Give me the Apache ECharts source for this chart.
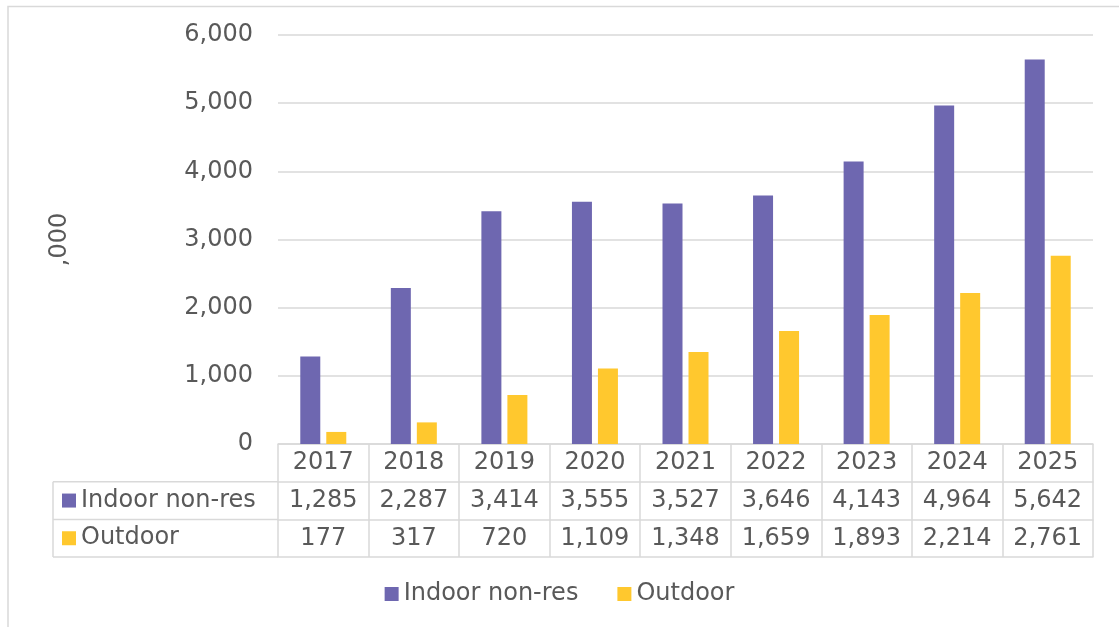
<!DOCTYPE html>
<html>
<head>
<meta charset="utf-8">
<script src="https://cdn.jsdelivr.net/npm/echarts@6/dist/echarts.min.js"></script>
<style>
  html, body { margin: 0; padding: 0; background: #fff; }
  #chart { width: 1119px; height: 627px; }
</style>
</head>
<body>
<div id="chart"></div>
<script>
// Yearly totals, in thousands
const years = ['2017', '2018', '2019', '2020', '2021', '2022', '2023', '2024', '2025'];
const indoorNonRes = [1285, 2287, 3414, 3555, 3527, 3646, 4143, 4964, 5642];
const outdoor = [177, 317, 720, 1109, 1348, 1659, 1893, 2214, 2761];
const seriesNames = ['Indoor non-res', 'Outdoor'];
const unitLabel = ',000';

const PURPLE = '#6E67B0';
const YELLOW = '#FFC82E';
const TEXT = '#595959';
const LINE = '#D9D9D9';
const FONT = 'Verdana, "DejaVu Sans", sans-serif';
const FS = 24;

const fmt = v => v.toLocaleString('en-US');

// table geometry (rows below the plot)
const gridLeft = 278, gridRight = 26, gridTop = 35, gridBottom = 183;
const rowH = 37.7;
const plotBottom = 627 - gridBottom;
const tableLeft = 53;

const chart = echarts.init(document.getElementById('chart'), null, { renderer: 'canvas' });

const baseAxis = {
  type: 'category',
  position: 'bottom',
  data: years,
  boundaryGap: true,
  axisLine: { show: true, lineStyle: { color: LINE, width: 1.5 } },
  axisTick: { show: false },
  splitLine: { show: false }
};

function rowAxis(offset, values) {
  return Object.assign({}, baseAxis, {
    offset: offset,
    axisLabel: {
      show: !!values,
      interval: 0,
      color: TEXT,
      fontFamily: FONT,
      fontSize: FS,
      lineHeight: FS,
      margin: 7,
      formatter: (val, idx) => values ? fmt(values[idx]) : ''
    }
  });
}

const rowY = i => plotBottom + rowH * i;

const leftCells = [];
// horizontal and vertical lines of the row-header column
[1, 2, 3].forEach(i => {
  leftCells.push({
    type: 'line',
    shape: { x1: tableLeft, y1: rowY(i), x2: gridLeft, y2: rowY(i) },
    style: { stroke: LINE, lineWidth: 1.5 }
  });
});
leftCells.push({
  type: 'line',
  shape: { x1: tableLeft, y1: rowY(1), x2: tableLeft, y2: rowY(3) },
  style: { stroke: LINE, lineWidth: 1.5 }
});
[PURPLE, YELLOW].forEach((c, i) => {
  const cy = rowY(1 + i) + rowH / 2;
  leftCells.push({
    type: 'rect',
    shape: { x: 62, y: cy - 7, width: 14, height: 14 },
    style: { fill: c }
  });
  leftCells.push({
    type: 'text',
    x: 81, y: cy,
    style: {
      text: seriesNames[i], fill: TEXT, font: FS + 'px ' + FONT,
      verticalAlign: 'middle', align: 'left'
    }
  });
});
// chart frame (left and top edges)
leftCells.push({
  type: 'polyline',
  shape: { points: [[8, 627], [8, 6.5], [1119, 6.5]] },
  style: { stroke: LINE, lineWidth: 1.5, fill: null }
});

chart.setOption({
  animation: false,
  backgroundColor: '#fff',
  textStyle: { fontFamily: FONT },
  grid: { left: gridLeft, right: gridRight, top: gridTop, bottom: gridBottom, containLabel: false },
  legend: {
    top: 577,
    left: 'center',
    padding: 0,
    itemWidth: 14,
    itemHeight: 14,
    itemGap: 39,
    icon: 'rect',
    textStyle: { color: TEXT, fontSize: FS, fontFamily: FONT, lineHeight: 34 },
    data: seriesNames
  },
  xAxis: [
    Object.assign({}, baseAxis, {
      axisTick: { show: true, interval: 0, length: rowH * 3, lineStyle: { color: LINE, width: 1.5 } },
      axisLabel: { interval: 0, color: TEXT, fontFamily: FONT, fontSize: FS, lineHeight: FS, margin: 7 }
    }),
    rowAxis(rowH, indoorNonRes),
    rowAxis(rowH * 2, outdoor),
    rowAxis(rowH * 3, null)
  ],
  yAxis: {
    type: 'value',
    min: 0,
    max: 6000,
    interval: 1000,
    name: unitLabel,
    nameLocation: 'middle',
    nameRotate: 90,
    nameGap: 206,
    nameTextStyle: { color: TEXT, fontSize: FS, fontFamily: FONT },
    axisLine: { show: false },
    axisTick: { show: false },
    axisLabel: { color: TEXT, fontSize: FS, fontFamily: FONT, margin: 25, formatter: v => fmt(v) },
    splitLine: { lineStyle: { color: LINE, width: 1.5 } }
  },
  series: [
    {
      name: seriesNames[0], type: 'bar', xAxisIndex: 0, data: indoorNonRes,
      barWidth: 20, barGap: '30%',
      itemStyle: { color: PURPLE }
    },
    {
      name: seriesNames[1], type: 'bar', xAxisIndex: 0, data: outdoor,
      barWidth: 20, barGap: '30%',
      itemStyle: { color: YELLOW }
    }
  ],
  graphic: leftCells
});
</script>
</body>
</html>
